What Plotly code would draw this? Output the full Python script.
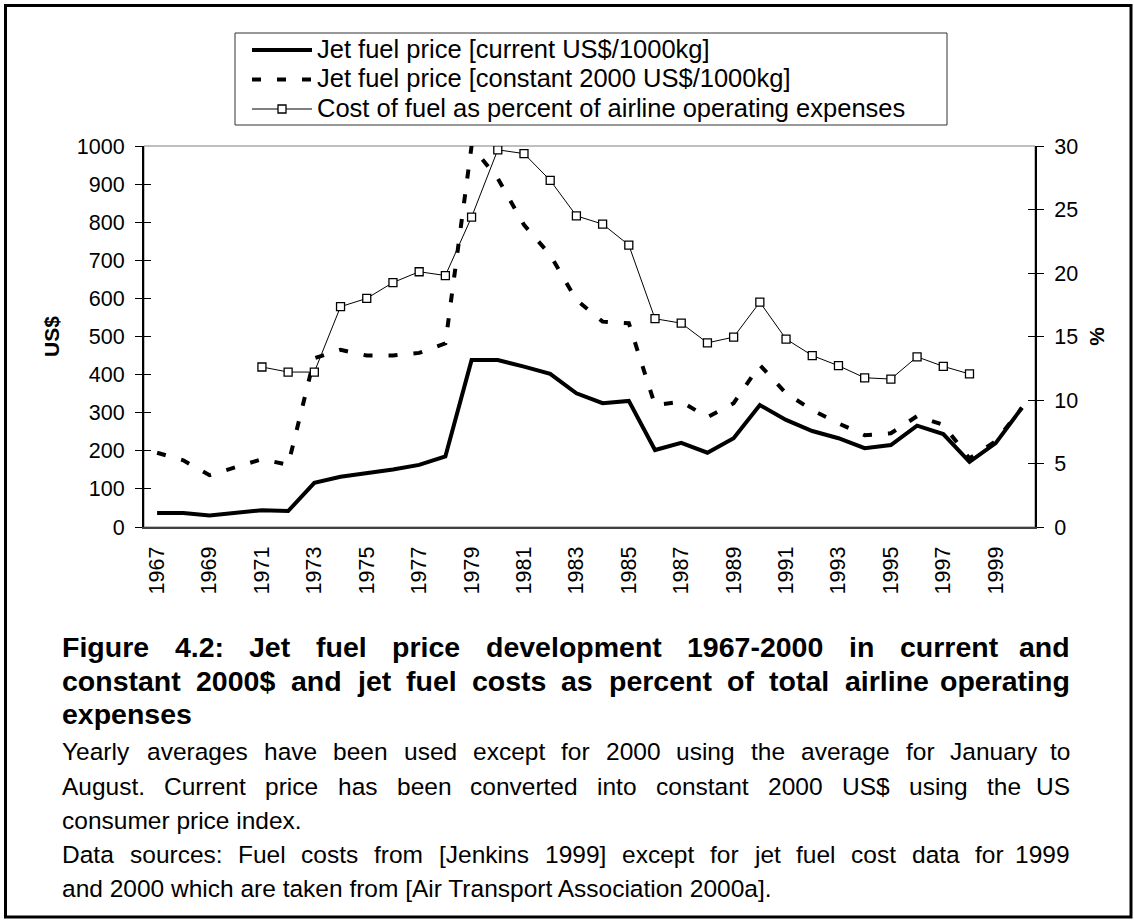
import plotly.graph_objects as go

# ---- data -------------------------------------------------------------
years = list(range(1967, 2001))

price_current = [37, 37, 30, 36, 44, 42, 116, 132, 141, 151, 163, 185, 438, 438,
                 421, 402, 351, 325, 331, 202, 221, 195, 233, 320, 281, 252, 233,
                 207, 215, 266, 244, 171, 220, 313]

price_constant = [195, 175, 136, 158, 178, 163, 443, 465, 450, 450, 457, 482, 1000,
                  915, 793, 714, 596, 539, 535, 320, 329, 288, 325, 425, 351, 307,
                  272, 241, 246, 291, 268, 180, 225, 313]

fuel_share_pct = [None, None, None, None, 12.6, 12.2, 12.2, 17.35, 18.0, 19.25,
                  20.1, 19.8, 24.4, 29.7, 29.4, 27.3, 24.5, 23.85, 22.2, 16.4,
                  16.05, 14.5, 14.95, 17.7, 14.8, 13.5, 12.7, 11.75, 11.65, 13.4,
                  12.65, 12.05, None, None]

year_ticks = list(range(1967, 2000, 2))
usd_ticks = list(range(0, 1001, 100))
pct_ticks = list(range(0, 31, 5))

series_names = [
    "Jet fuel price [current US$/1000kg]",
    "Jet fuel price [constant 2000 US$/1000kg]",
    "Cost of fuel as percent of airline operating expenses",
]

# caption: (text, justified?)
title_lines = [
    ("Figure 4.2: Jet fuel price development 1967-2000 in current and", True),
    ("constant 2000$ and jet fuel costs as percent of total airline operating", True),
    ("expenses", False),
]
note_lines = [
    ("Yearly averages have been used except for 2000 using the average for January to", True),
    ("August. Current price has been converted into constant 2000 US$ using the US", True),
    ("consumer price index.", False),
    ("Data sources: Fuel costs from [Jenkins 1999] except for jet fuel cost data for 1999", True),
    ("and 2000 which are taken from [Air Transport Association 2000a].", False),
]

# ---- page geometry (pixels) ------------------------------------------
W, H = 1134, 924
PL, PR, PT, PB = 144, 1035, 146, 527   # plot area edges
FONT = "Liberation Sans, Arial, sans-serif"
TICK_SIZE = 21.5
LEGEND_SIZE = 25.5
TITLE_SIZE = 28.5
NOTE_SIZE = 24.5
TEXT_LEFT, TEXT_RIGHT = 60, 1072


def px(x):
    return (x - PL) / (PR - PL)


def py(y):
    return (PB - y) / (PB - PT)


# Arial / Liberation Sans advance widths (1/1000 em), used to justify the caption
_REG = {" ": 278, "$": 556, "%": 889, ",": 278, "-": 333, ".": 278, "/": 278,
        ":": 278, "[": 278, "]": 278}
_BOLD = {" ": 278, "$": 556, "%": 889, ",": 278, "-": 333, ".": 278, "/": 278,
         ":": 333, "[": 333, "]": 333}
for d in "0123456789":
    _REG[d] = _BOLD[d] = 556
_REG.update(dict(zip("ABCDEFGHIJKLMNOPQRSTUVWXYZ",
                     [667, 667, 722, 722, 667, 611, 778, 722, 278, 500, 667, 556, 833,
                      722, 778, 667, 778, 722, 667, 611, 722, 667, 944, 667, 667, 611])))
_REG.update(dict(zip("abcdefghijklmnopqrstuvwxyz",
                     [556, 556, 500, 556, 556, 278, 556, 556, 222, 222, 500, 222, 833,
                      556, 556, 556, 556, 333, 500, 278, 556, 500, 722, 500, 500, 500])))
_BOLD.update(dict(zip("ABCDEFGHIJKLMNOPQRSTUVWXYZ",
                      [722, 722, 722, 722, 667, 611, 778, 722, 278, 556, 722, 611, 833,
                       722, 778, 667, 778, 722, 667, 611, 722, 667, 944, 667, 667, 611])))
_BOLD.update(dict(zip("abcdefghijklmnopqrstuvwxyz",
                      [556, 611, 556, 611, 556, 333, 611, 611, 278, 278, 556, 278, 889,
                       611, 611, 611, 611, 389, 556, 333, 611, 556, 778, 556, 556, 500])))


def text_width(s, size, bold):
    table = _BOLD if bold else _REG
    return sum(table.get(ch, 556) for ch in s) * size / 1000.0


fig = go.Figure()

fig.add_trace(go.Scatter(
    x=years, y=price_current, mode="lines", name=series_names[0],
    line=dict(color="black", width=4), showlegend=False,
))
fig.add_trace(go.Scatter(
    x=years, y=price_constant, mode="lines", name=series_names[1],
    line=dict(color="black", width=4, dash="9px,16px"), showlegend=False,
))
fig.add_trace(go.Scatter(
    x=years, y=fuel_share_pct, mode="lines+markers", yaxis="y2", name=series_names[2],
    line=dict(color="black", width=1),
    marker=dict(symbol="square", size=8, color="white",
                line=dict(color="black", width=1.3)),
    connectgaps=False, showlegend=False,
))
# empty traces so the tick-only overlay axes are drawn
fig.add_trace(go.Scatter(x=[None], y=[None], yaxis="y3", showlegend=False, hoverinfo="skip"))
fig.add_trace(go.Scatter(x=[None], y=[None], yaxis="y4", showlegend=False, hoverinfo="skip"))

axis_font = dict(family=FONT, size=TICK_SIZE, color="black")

fig.update_layout(
    width=W, height=H,
    margin=dict(l=PL, r=W - PR, t=PT, b=H - PB),
    paper_bgcolor="white", plot_bgcolor="white",
    font=dict(family=FONT, color="black"),
    showlegend=False,
    xaxis=dict(
        range=[1966.5, 2000.5], tickmode="array", tickvals=year_ticks,
        ticktext=[str(v) for v in year_ticks], tickangle=-90,
        ticks="", showgrid=False, zeroline=False,
        showline=True, linecolor="#404040", linewidth=2,
        tickfont=axis_font, ticklabelstandoff=9,
    ),
    yaxis=dict(
        range=[0, 1000], tickmode="array", tickvals=usd_ticks,
        ticks="outside", ticklen=7, tickcolor="black", tickwidth=1,
        showgrid=False, zeroline=False,
        showline=True, linecolor="black", linewidth=2,
        tickfont=axis_font, ticklabelstandoff=6,
        title=dict(text="<b>US$</b>", font=dict(family=FONT, size=21), standoff=12),
    ),
    yaxis2=dict(
        range=[0, 30], tickmode="array", tickvals=pct_ticks,
        overlaying="y", side="right", anchor="x",
        ticks="outside", ticklen=7, tickcolor="black", tickwidth=1,
        showgrid=False, zeroline=False,
        showline=True, linecolor="black", linewidth=2,
        tickfont=axis_font, ticklabelstandoff=6,
        title=dict(text="<b>%</b>", font=dict(family=FONT, size=21), standoff=12),
    ),
    # inner halves of the crossing tick marks
    yaxis3=dict(
        range=[0, 1000], tickmode="array", tickvals=usd_ticks,
        overlaying="y", side="left", anchor="x",
        ticks="inside", ticklen=7, tickcolor="black", tickwidth=1,
        showticklabels=False, showgrid=False, zeroline=False, showline=False,
    ),
    yaxis4=dict(
        range=[0, 30], tickmode="array", tickvals=pct_ticks,
        overlaying="y", side="right", anchor="x",
        ticks="inside", ticklen=7, tickcolor="black", tickwidth=1,
        showticklabels=False, showgrid=False, zeroline=False, showline=False,
    ),
)

shapes = []
annotations = []

# plot-area border and outer page frame
shapes.append(dict(type="rect", xref="paper", yref="paper", x0=0, y0=0, x1=1, y1=1,
                   line=dict(color="#808080", width=1), layer="below"))
shapes.append(dict(type="rect", xref="paper", yref="paper",
                   x0=px(5.5), y0=py(5.5), x1=px(1131), y1=py(917),
                   line=dict(color="black", width=3)))

# ---- legend box ---------------------------------------------------------
LG_X0, LG_X1, LG_Y0, LG_Y1 = 235, 947, 33, 125
row_y = [50, 79.5, 109]
SAMPLE_X0, SAMPLE_X1, TEXT_X = 252, 312, 316
shapes.append(dict(type="rect", xref="paper", yref="paper",
                   x0=px(LG_X0), x1=px(LG_X1), y0=py(LG_Y0), y1=py(LG_Y1),
                   line=dict(color="#333333", width=1), fillcolor="white"))
shapes.append(dict(type="line", xref="paper", yref="paper",
                   x0=px(SAMPLE_X0), x1=px(SAMPLE_X1), y0=py(row_y[0]), y1=py(row_y[0]),
                   line=dict(color="black", width=4)))
shapes.append(dict(type="line", xref="paper", yref="paper",
                   x0=px(SAMPLE_X0), x1=px(SAMPLE_X1 + 4), y0=py(row_y[1]), y1=py(row_y[1]),
                   line=dict(color="black", width=4, dash="9px,16px")))
shapes.append(dict(type="line", xref="paper", yref="paper",
                   x0=px(SAMPLE_X0), x1=px(SAMPLE_X1), y0=py(row_y[2]), y1=py(row_y[2]),
                   line=dict(color="black", width=1)))
mx = (SAMPLE_X0 + SAMPLE_X1) / 2
shapes.append(dict(type="rect", xref="paper", yref="paper",
                   x0=px(mx - 4), x1=px(mx + 4), y0=py(row_y[2] - 4), y1=py(row_y[2] + 4),
                   line=dict(color="black", width=1.3), fillcolor="white"))
for name, yy in zip(series_names, row_y):
    annotations.append(dict(text=name, xref="paper", yref="paper",
                            x=px(TEXT_X), y=py(yy - 1.3), xanchor="left", yanchor="middle",
                            borderpad=0, showarrow=False,
                            font=dict(family=FONT, size=LEGEND_SIZE, color="black")))


# ---- caption (justified lines) ----------------------------------------
def add_line(text, y, size, bold, justify):
    words = text.split(" ")
    wrap = (lambda s: f"<b>{s}</b>") if bold else (lambda s: s)
    font = dict(family=FONT, size=size, color="black")
    if not justify or len(words) == 1:
        annotations.append(dict(text=wrap(text), xref="paper", yref="paper",
                                x=px(TEXT_LEFT), y=py(y), xanchor="left", yanchor="middle",
                                showarrow=False, font=font))
        return
    widths = [text_width(w, size, bold) for w in words]
    gap = (TEXT_RIGHT - TEXT_LEFT - sum(widths)) / (len(words) - 1)
    x = TEXT_LEFT
    for i, (w, wd) in enumerate(zip(words, widths)):
        last = i == len(words) - 1
        annotations.append(dict(text=wrap(w), xref="paper", yref="paper",
                                x=px(TEXT_RIGHT if last else x), y=py(y),
                                xanchor="right" if last else "left", yanchor="middle",
                                showarrow=False, font=font))
        x += wd + gap


for (txt, just), yy in zip(title_lines, [647, 681, 714]):
    add_line(txt, yy, TITLE_SIZE, True, just)
for (txt, just), yy in zip(note_lines, [752, 786, 820, 854, 888]):
    add_line(txt, yy, NOTE_SIZE, False, just)

fig.update_layout(shapes=shapes, annotations=annotations)
fig.write_html("out.html")
